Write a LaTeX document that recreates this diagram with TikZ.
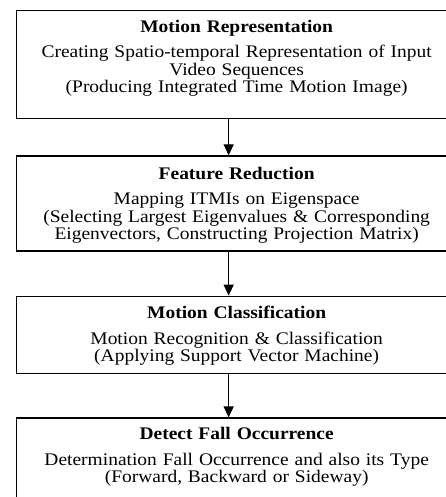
\documentclass[tikz,border=0pt]{standalone}
\usepackage{fontspec}
\setmainfont[FakeStretch=1.1]{Liberation Serif}
\usetikzlibrary{positioning}
\usetikzlibrary{arrows.meta}

% struts that fix the space above the first and below the last line
\newcommand{\toppad}[1]{\rule{0pt}{#1}}
\newcommand{\botpad}[1]{\rule[-#1]{0pt}{#1}}

\tikzset{
  stage/.style={draw, line width=1.3pt, text width=420pt, inner xsep=10pt,
    inner ysep=0pt, align=center, font=\fontsize{17.7}{17.5}\selectfont},
  flow/.style={-{Triangle[length=11pt,width=10pt]}, line width=1.3pt}
}

\begin{document}
\begin{tikzpicture}[x=1pt,y=1pt,node distance=36pt]
  \useasboundingbox (0,0) rectangle (446,-497);
  \clip (0,0) rectangle (446,-497);
  \node[stage, anchor=north west] (rep) at (16,-10)
    {\toppad{22pt}\textbf{Motion Representation}\\[7.5pt]
     Creating Spatio-temporal Representation of Input\\
     Video Sequences\\
     (Producing Integrated Time Motion Image)\botpad{26pt}};
  \node[stage] (red) [below=of rep]
    {\toppad{24pt}\textbf{Feature Reduction}\\[7.5pt]
     Mapping ITMIs on Eigenspace\\
     (Selecting Largest Eigenvalues \& Corresponding\\
     Eigenvectors, Constructing Projection Matrix)\botpad{11pt}};
  \node[stage] (cls) [below=44pt of red]
    {\toppad{22pt}\textbf{Motion Classification}\\[8.5pt]
     Motion Recognition \& Classification\\
     (Applying Support Vector Machine)\botpad{12pt}};
  \node[stage] (det) [below=43pt of cls]
    {\toppad{21pt}\textbf{Detect Fall Occurrence}\\[8.5pt]
     Determination Fall Occurrence and also its Type\\
     (Forward, Backward or Sideway)\botpad{40pt}};
  \draw[flow] ([xshift=-8pt]rep.south) -- ([xshift=-8pt]red.north);
  \draw[flow] ([xshift=-8pt]red.south) -- ([xshift=-8pt]cls.north);
  \draw[flow] ([xshift=-8pt]cls.south) -- ([xshift=-8pt]det.north);
\end{tikzpicture}
\end{document}
